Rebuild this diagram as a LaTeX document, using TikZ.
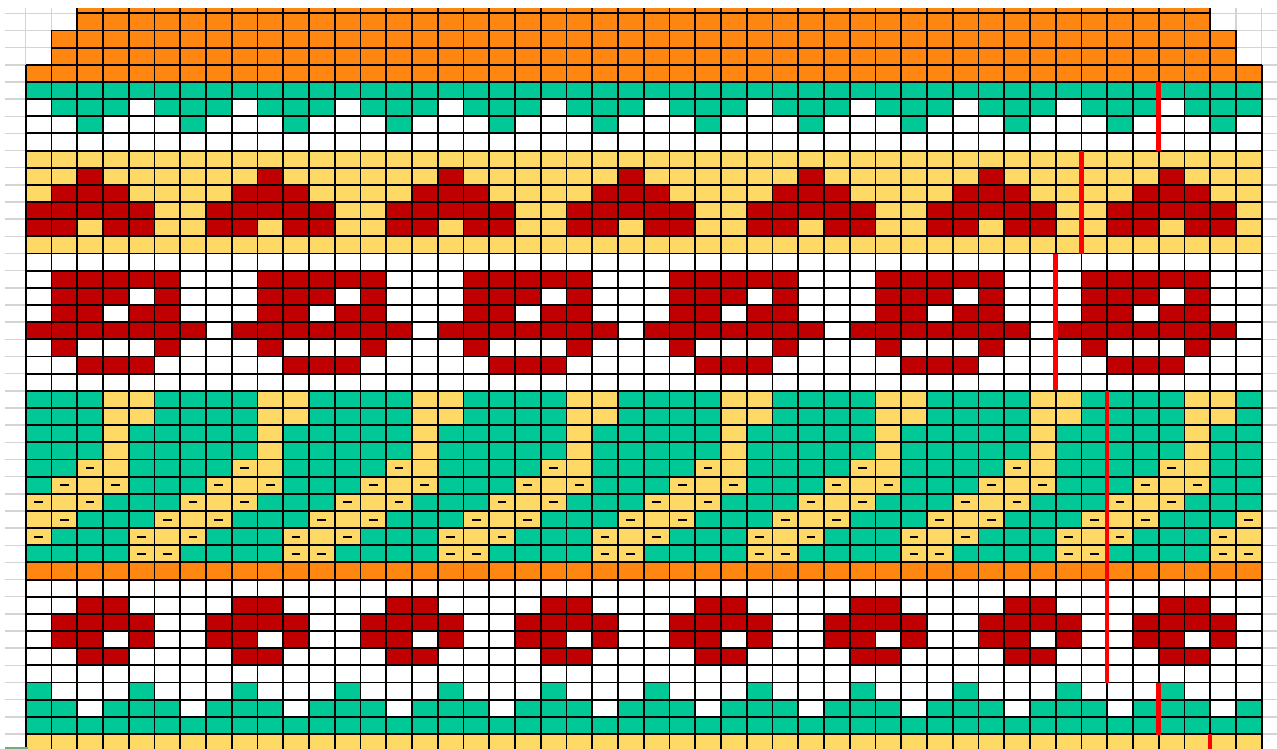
\documentclass[tikz,border=0pt]{standalone}
\definecolor{kOrange}{RGB}{255,134,16}
\definecolor{kTeal}{RGB}{0,200,150}
\definecolor{kYellow}{RGB}{255,217,102}
\definecolor{kRed}{RGB}{192,0,0}
\definecolor{kGrey}{RGB}{212,212,212}
\definecolor{kMark}{RGB}{255,0,0}
\definecolor{kGreen}{RGB}{110,175,130}
\tikzset{
  gridline/.style={draw=black,line width=1.9pt},
  greyline/.style={draw=kGrey,line width=1.5pt},
  dashmark/.style={draw=black,line width=2pt},
  redmark/.style={draw=kMark,line width=4.5pt},
}
% color, row, period, offsets
\newcommand\pcells[4]{%
  \foreach \o in {#4}{%
    \foreach \k in {0,...,12}{%
      \pgfmathtruncatemacro\mycol{\o+\k*#3}%
      \ifnum\mycol<48 \fill[fill=#1] (\mycol,#2) rectangle ++(1,1);\fi
    }}}
% row, period, offsets
\newcommand\pdash[3]{%
  \foreach \o in {#3}{%
    \foreach \k in {0,...,12}{%
      \pgfmathtruncatemacro\mycol{\o+\k*#2}%
      \ifnum\mycol<48 \draw[dashmark] (\mycol+0.33,#1+0.5) -- (\mycol+0.67,#1+0.5);\fi
    }}}
\begin{document}
\begin{tikzpicture}[x=25.75pt,y=-17.16pt]
\useasboundingbox (-0.99806,-0.77506) rectangle (48.5942,42.8730);
\fill[fill=white] (-0.99806,-0.77506) rectangle (48.5942,42.8730);
% spreadsheet grey grid
\foreach \k in {0,...,42} \draw[greyline] (-0.804,\k) -- (48.6,\k);
\foreach \j in {0,...,48} \draw[greyline] (\j,-0.309) -- (\j,42.873);
% top orange rows
\fill[fill=kOrange] (2,-0.309) rectangle (46,1);
\fill[fill=kOrange] (1,1) rectangle (47,3);
\fill[fill=kOrange] (0,3) rectangle (48,4);
% teal / white band
\fill[fill=kTeal] (0,4) rectangle (48,6);
\pcells{white}{5}{4}{0}
\pcells{kTeal}{6}{4}{2}
% yellow band with red motifs
\fill[fill=kYellow] (0,8) rectangle (48,14);
\pcells{kRed}{9}{7}{2}
\pcells{kRed}{10}{7}{1,2,3}
\pcells{kRed}{11}{7}{0,1,2,3,4}
\pcells{kRed}{12}{7}{0,1,3,4}
% white band with red squares
\pcells{kRed}{15}{8}{1,2,3,4,5}
\pcells{kRed}{16}{8}{1,2,3,5}
\pcells{kRed}{17}{8}{1,2,4,5}
\pcells{kRed}{18}{8}{0,1,2,3,4,5,6}
\pcells{kRed}{19}{8}{1,5}
\pcells{kRed}{20}{8}{2,3,4}
% teal band with yellow zigzags
\fill[fill=kTeal] (0,22) rectangle (48,32);
\pcells{kYellow}{22}{6}{3,4}
\pcells{kYellow}{23}{6}{3,4}
\pcells{kYellow}{24}{6}{3}
\pcells{kYellow}{25}{6}{3}
\pcells{kYellow}{26}{6}{2,3}
\pcells{kYellow}{27}{6}{1,2,3}
\pcells{kYellow}{28}{6}{0,1,2}
\pcells{kYellow}{29}{6}{0,1,5}
\pcells{kYellow}{30}{6}{0,4,5}
\pcells{kYellow}{31}{6}{4,5}
\fill[fill=kOrange] (0,32) rectangle (48,33);
% white band with small red motifs
\pcells{kRed}{34}{6}{2,3}
\pcells{kRed}{35}{6}{1,2,3,4}
\pcells{kRed}{36}{6}{1,2,4}
\pcells{kRed}{37}{6}{2,3}
% bottom teal / white
\pcells{kTeal}{39}{4}{0}
\fill[fill=kTeal] (0,40) rectangle (48,42);
\pcells{white}{40}{4}{2}
\fill[fill=kYellow] (0,42) rectangle (48,42.873);
% black grid
\draw[gridline] (2,0) -- (46,0);
\draw[gridline] (1,1) -- (47,1);
\draw[gridline] (1,2) -- (47,2);
\foreach \k in {3,...,42} \draw[gridline] (0,\k) -- (48,\k);
\draw[gridline] (0,3) -- (0,42.873);
\draw[gridline] (1,1) -- (1,42.873);
\foreach \j in {2,...,46} \draw[gridline] (\j,-0.309) -- (\j,42.873);
\draw[gridline] (47,1) -- (47,42.873);
\draw[gridline] (48,3) -- (48,42.873);
% dash marks
\pdash{26}{6}{2}
\pdash{27}{6}{1,3}
\pdash{28}{6}{0,2}
\pdash{29}{6}{1,5}
\pdash{30}{6}{0,4}
\pdash{31}{6}{4,5}
% red marker lines
\draw[redmark] (44,4) -- (44,8.05);
\draw[redmark] (41,8) -- (41,14);
\draw[redmark] (40,14) -- (40,21.97);
\draw[redmark] (42,22) -- (42,39.04);
\draw[redmark] (44,39) -- (44,42.06);
\draw[redmark] (46,42) -- (46,42.873);
% small green mark
\fill[fill=kGreen] (-0.804,42.76) rectangle (0.089,42.873);
\end{tikzpicture}
\end{document}
